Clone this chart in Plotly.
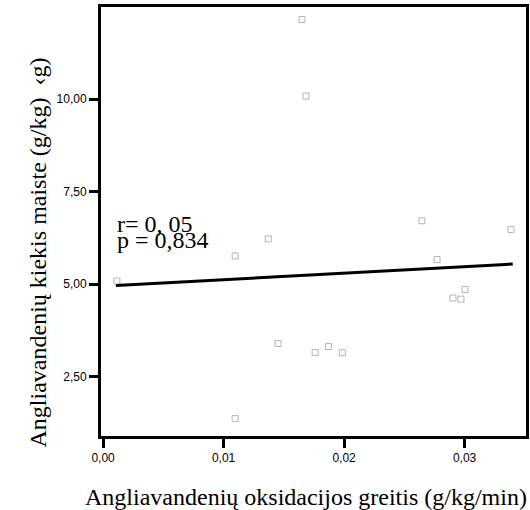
import plotly.graph_objects as go

# Data
x_vals = [0.00115, 0.01096, 0.01371, 0.01453, 0.01096, 0.01760, 0.01870, 0.01986,
          0.02646, 0.02772, 0.03003, 0.02904, 0.02970, 0.03385, 0.01651, 0.01684]
y_vals = [5.08, 5.76, 6.22, 3.39, 1.36, 3.15, 3.31, 3.14,
          6.71, 5.66, 4.85, 4.62, 4.59, 6.47, 12.15, 10.08]
fit_x = [0.00107, 0.0340]
fit_y = [4.96, 5.54]
x_ticks = [0.00, 0.01, 0.02, 0.03]
y_ticks = [2.50, 5.00, 7.50, 10.00]
stats_lines = ["r= 0, 05", "p = 0,834"]
stats_y = [6.62, 6.19]

serif = "Liberation Serif, Times New Roman, serif"
sans = "Liberation Sans, Arial, sans-serif"

fig = go.Figure()
fig.add_trace(go.Scatter(
    x=x_vals, y=y_vals, mode="markers",
    marker=dict(symbol="square-open", size=6, color="#b4b4b4", line=dict(width=1, color="#b4b4b4")),
    showlegend=False, hoverinfo="skip"))
fig.add_trace(go.Scatter(
    x=fit_x, y=fit_y, mode="lines",
    line=dict(color="black", width=3), showlegend=False, hoverinfo="skip"))

for txt, yy in zip(stats_lines, stats_y):
    fig.add_annotation(x=0.0011, y=yy, xref="x", yref="y", text=txt, showarrow=False,
                       xanchor="left", yanchor="middle", borderpad=0,
                       font=dict(family=serif, size=24, color="black"))

fig.add_annotation(x=-0.149, y=0.427, xref="paper", yref="paper",
                   text="Angliavandenių kiekis maiste (g/kg)  ‹g)", textangle=-90,
                   showarrow=False, xanchor="center", yanchor="middle",
                   font=dict(family=serif, size=24, color="black"))
fig.add_annotation(x=0.4825, y=-0.143, xref="paper", yref="paper",
                   text="Angliavandenių oksidacijos greitis (g/kg/min)",
                   showarrow=False, xanchor="center", yanchor="middle",
                   font=dict(family=serif, size=24, color="black"))

axis_common = dict(showgrid=False, zeroline=False, showline=True, linecolor="black",
                   linewidth=3, mirror=True, ticks="outside", ticklen=9, tickwidth=3,
                   tickcolor="black", tickformat=".2f",
                   tickfont=dict(family=sans, size=12, color="black"))

fig.update_xaxes(range=[-0.00017, 0.0351], tickvals=x_ticks, **axis_common)
fig.update_yaxes(range=[0.89, 12.49], tickvals=y_ticks, **axis_common)

fig.update_layout(
    width=530, height=510, separators=",.",
    margin=dict(l=101, r=1, t=7, b=74),
    plot_bgcolor="white", paper_bgcolor="white")

fig.write_html("out.html")
